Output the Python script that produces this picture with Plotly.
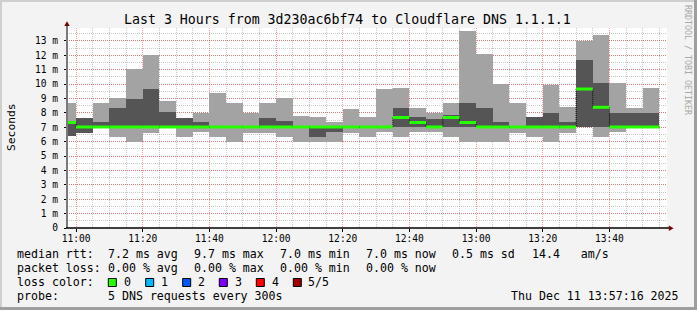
import pandas as pd
import plotly.graph_objects as go

# ---------------- data ----------------
DAY = "2025-12-11"
slot_start = ["10:55", "11:00", "11:05", "11:10", "11:15", "11:20", "11:25", "11:30", "11:35",
              "11:40", "11:45", "11:50", "11:55", "12:00", "12:05", "12:10", "12:15", "12:20",
              "12:25", "12:30", "12:35", "12:40", "12:45", "12:50", "12:55", "13:00", "13:05",
              "13:10", "13:15", "13:20", "13:25", "13:30", "13:35", "13:40", "13:45", "13:50"]
# five sorted DNS rtt samples per 5 minute slot (ms)
ping_min = [6.36, 6.61, 7.00, 6.33, 5.98, 6.61, 7.00, 6.33, 6.68, 6.33, 5.98, 6.61, 6.61, 6.33,
            5.98, 5.98, 5.98, 6.61, 6.33, 6.68, 6.33, 6.68, 6.68, 6.33, 5.98, 5.98, 5.98, 6.57,
            6.33, 5.98, 6.57, 7.03, 6.33, 6.68, 7.00, 7.00]
ping_2nd = [6.36, 6.61, 7.00, 7.00, 7.00, 7.00, 7.00, 7.00, 7.00, 7.00, 7.00, 7.00, 7.00, 7.00,
            7.00, 6.33, 6.68, 7.00, 7.00, 7.00, 7.03, 7.03, 7.00, 7.03, 7.03, 7.00, 7.00, 7.00,
            7.00, 7.00, 7.00, 7.03, 7.03, 7.00, 7.00, 7.00]
median = [7.33, 7.02, 7.02, 7.02, 7.02, 7.02, 7.02, 7.02, 7.02, 7.02, 7.02, 7.02, 7.02, 7.02,
          7.02, 7.02, 7.02, 7.02, 7.02, 7.02, 7.68, 7.33, 7.02, 7.68, 7.33, 7.02, 7.02, 7.02,
          7.02, 7.02, 7.02, 9.66, 8.39, 7.02, 7.02, 7.02]
ping_4th = [7.36, 7.63, 7.35, 8.32, 9.00, 9.64, 8.04, 7.63, 7.35, 7.02, 7.02, 7.02, 7.63, 7.42,
            7.02, 7.02, 7.02, 7.02, 7.02, 7.02, 8.32, 7.72, 7.61, 7.82, 8.67, 8.32, 7.37, 7.02,
            7.70, 8.00, 7.37, 11.65, 10.06, 7.98, 7.98, 7.98]
ping_max = [8.67, 7.63, 8.67, 9.01, 11.05, 12.02, 8.81, 7.63, 7.98, 9.36, 8.67, 7.98, 8.67, 9.01,
            7.77, 7.70, 7.35, 8.25, 7.70, 9.64, 9.71, 8.34, 8.00, 8.67, 13.66, 12.07, 9.99, 8.72,
            7.70, 9.92, 8.39, 12.97, 13.38, 10.06, 8.32, 9.71]

y_tick_vals = list(range(0, 14))
y_tick_text = ["0"] + [f"{v} m" for v in range(1, 14)]

loss_labels = ["0", "1", "2", "3", "4", "5/5"]
loss_colors = ["#26ff00", "#00b8ff", "#0059ff", "#7e00ff", "#ff0000", "#a10000"]

title_text = "Last 3 Hours from 3d230ac6bf74 to Cloudflare DNS 1.1.1.1"
rtt_stats = ["7.2 ms avg", "9.7 ms max", "7.0 ms min", "7.0 ms now", "0.5 ms sd", "14.4   am/s"]
loss_stats = ["0.00 % avg", "0.00 % max", "0.00 % min", "0.00 % now"]
probe_text = "5 DNS requests every 300s"
stamp_text = "Thu Dec 11 13:57:16 2025"

# ---------------- geometry ----------------
W, H = 697, 310
L, R, T, B = 67, 667, 28, 228
def px(x):
    return (x - L) / (R - L)
def py(y):
    return (B - y) / (B - T)

starts = pd.to_datetime([f"{DAY} {t}:00" for t in slot_start])
ends = starts + pd.Timedelta(minutes=5)
slot_ms = 5 * 60 * 1000

LIGHT = "#a3a3a3"
DARK = "#555555"
MONO = "DejaVu Sans Mono"

fig = go.Figure()
fig.add_trace(go.Bar(x=starts, y=[b - a for a, b in zip(ping_min, ping_max)], base=ping_min,
                     width=slot_ms, offset=0, marker=dict(color=LIGHT, line=dict(width=0)),
                     hoverinfo="skip"))
fig.add_trace(go.Bar(x=starts, y=[b - a for a, b in zip(ping_2nd, ping_4th)], base=ping_2nd,
                     width=slot_ms, offset=0, marker=dict(color=DARK, line=dict(width=0)),
                     hoverinfo="skip"))
# dotted connector of the median
fig.add_trace(go.Scatter(x=list(starts) + [ends[-1]], y=median + [median[-1]], mode="lines",
                         line=dict(color="black", width=1, dash="1px,1px", shape="hv"),
                         hoverinfo="skip"))
# loss coloured median segments
seg_x, seg_y = [], []
for s, e, m in zip(starts, ends, median):
    seg_x += [s, e, None]
    seg_y += [m, m, None]
fig.add_trace(go.Scatter(x=seg_x, y=seg_y, mode="lines",
                         line=dict(color=loss_colors[0], width=3), hoverinfo="skip"))

MAJ = "rgba(235,0,0,0.38)"
MIN = "rgba(110,110,110,0.38)"

fig.update_xaxes(type="date", range=[f"{DAY} 10:57:16", f"{DAY} 13:57:16"],
                 tick0=f"{DAY} 11:00", dtick=20 * 60 * 1000, tickformat="%H:%M",
                 showgrid=True, gridcolor=MAJ, griddash="1px,1px", gridwidth=1,
                 minor=dict(tick0=f"{DAY} 11:00", dtick=slot_ms, showgrid=True, gridcolor=MIN,
                            griddash="1px,1px", gridwidth=1),
                 ticks="outside", ticklen=3, tickcolor="black", showline=False, zeroline=False,
                 ticklabelstandoff=-2,
                 tickfont=dict(family=MONO, size=9.6, color="black"), fixedrange=True)
fig.update_yaxes(range=[0, 13.9], tickmode="array", tickvals=y_tick_vals, ticktext=y_tick_text,
                 showgrid=True, gridcolor=MAJ, griddash="1px,1px", gridwidth=1,
                 minor=dict(tickmode="linear", tick0=0, dtick=0.5, showgrid=True, gridcolor=MIN,
                            griddash="1px,1px", gridwidth=1),
                 ticks="outside", ticklen=2, tickcolor="black", showline=False, zeroline=False,
                 ticklabelstandoff=4,
                 tickfont=dict(family=MONO, size=9.6, color="black"), fixedrange=True)

shapes = []
# frame
shapes.append(dict(type="rect", xref="paper", yref="paper", x0=px(0), x1=px(2), y0=py(H), y1=py(0),
                   fillcolor="#cfcfcf", line=dict(width=0), layer="above"))
shapes.append(dict(type="rect", xref="paper", yref="paper", x0=px(0), x1=px(W), y0=py(2), y1=py(0),
                   fillcolor="#cfcfcf", line=dict(width=0), layer="above"))
shapes.append(dict(type="rect", xref="paper", yref="paper", x0=px(W - 3), x1=px(W), y0=py(H), y1=py(0),
                   fillcolor="#9e9e9e", line=dict(width=0), layer="above"))
shapes.append(dict(type="rect", xref="paper", yref="paper", x0=px(0), x1=px(W), y0=py(H), y1=py(H - 3),
                   fillcolor="#9e9e9e", line=dict(width=0), layer="above"))
# axes lines and arrows
shapes.append(dict(type="line", xref="paper", yref="paper", x0=px(67), x1=px(67), y0=py(228), y1=py(25),
                   line=dict(color="#7a7a7a", width=2), layer="above"))
shapes.append(dict(type="line", xref="paper", yref="paper", x0=px(66), x1=px(670), y0=py(228), y1=py(228),
                   line=dict(color="black", width=1.6), layer="above"))
shapes.append(dict(type="path", xref="paper", yref="paper",
                   path=f"M{px(64.3)},{py(26)} L{px(67)},{py(21.3)} L{px(69.7)},{py(26)} Z",
                   fillcolor="#7f0000", line=dict(width=0), layer="above"))
shapes.append(dict(type="path", xref="paper", yref="paper",
                   path=f"M{px(668.8)},{py(225.4)} L{px(673.6)},{py(228.2)} L{px(668.8)},{py(231)} Z",
                   fillcolor="#7f0000", line=dict(width=0), layer="above"))
# loss colour boxes
box_x = [108.3, 145.7, 182.7, 219.3, 256.3, 293.3]
for bx, col in zip(box_x, loss_colors):
    shapes.append(dict(type="rect", xref="paper", yref="paper", x0=px(bx), x1=px(bx + 8),
                       y0=py(286.5), y1=py(278.5), fillcolor=col,
                       line=dict(color="black", width=1), layer="above"))

ann = []
def text(x, y, s, size=11.6, anchor="left", color="black", angle=0):
    ann.append(dict(x=px(x), y=py(y), xref="paper", yref="paper", text=s, showarrow=False,
                    xanchor=anchor, yanchor="middle", textangle=angle, borderpad=0,
                    font=dict(family=MONO, size=size, color=color)))

text(347.4, 19, title_text, size=13.25, anchor="center")
text(11, 127, "Seconds", size=11.3, anchor="center", angle=-90)
text(688, 60, "RRDTOOL / TOBI OETIKER", size=8.3, anchor="center", color="#a8a8a8", angle=90)

row_y = [254.3, 268.3, 282.3, 296]
text(16, row_y[0], "median rtt:")
for x, s in zip([107.3, 193.3, 279.3, 365, 451, 530.7], rtt_stats):
    text(x, row_y[0], s)
text(16, row_y[1], "packet loss:")
for x, s in zip([107.3, 193.3, 279.3, 365], loss_stats):
    text(x, row_y[1], s)
text(16, row_y[2], "loss color:")
for x, s in zip([123, 160, 197, 234, 270.7, 307.3], loss_labels):
    text(x, row_y[2], s)
text(16, row_y[3], "probe:")
text(107.3, row_y[3], probe_text)
text(680, row_y[3], stamp_text, anchor="right")

fig.update_layout(width=W, height=H, autosize=False,
                  margin=dict(l=L, r=W - R, t=T, b=H - B, pad=0),
                  paper_bgcolor="#f3f3f3", plot_bgcolor="white",
                  barmode="overlay", bargap=0, showlegend=False,
                  shapes=shapes, annotations=ann)

fig.write_html("out.html")
